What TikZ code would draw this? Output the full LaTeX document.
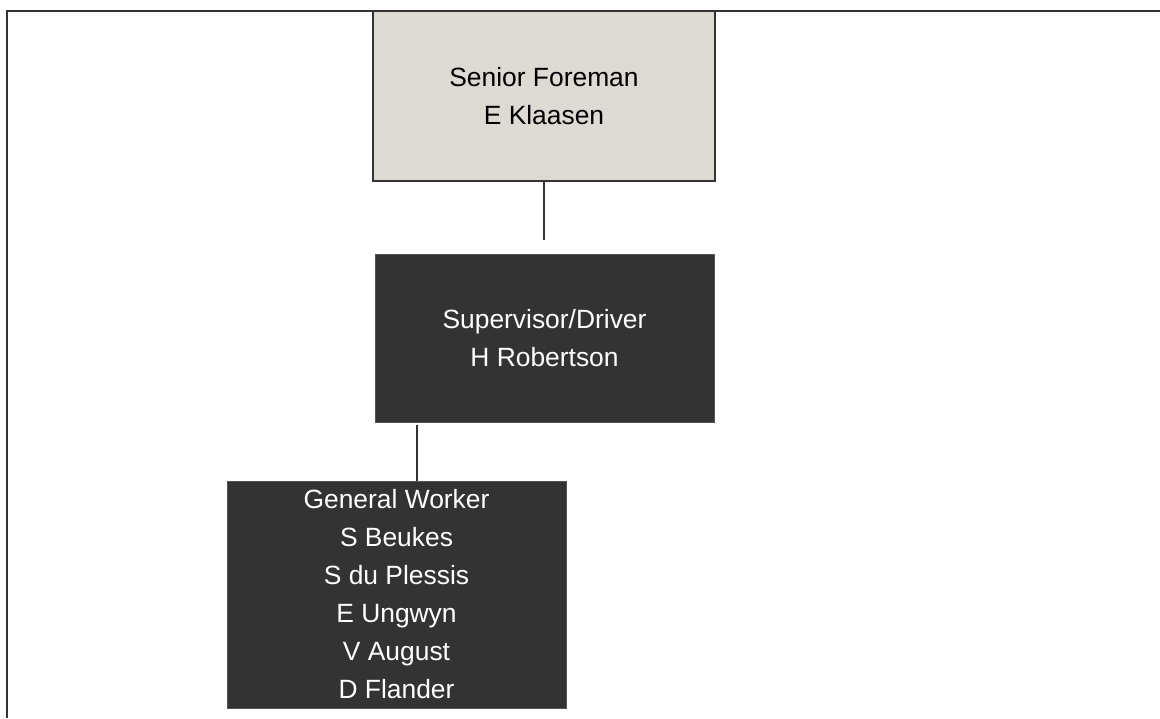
\documentclass[tikz,border=0pt]{standalone}
\usepackage{fontspec}
\setmainfont{Liberation Sans}
\definecolor{linegray}{HTML}{333333}
\definecolor{boxdark}{HTML}{333333}
\definecolor{boxlight}{HTML}{DDDAD3}
\definecolor{darkedge}{HTML}{555555}
\begin{document}
\begin{tikzpicture}[x=0.5pt,y=-0.5pt,
  orgbox/.style={rectangle, inner sep=0pt, align=center,
    font=\fontsize{13.2}{19}\selectfont},
  lightbox/.style={orgbox, fill=boxlight, draw=linegray, line width=1.2pt, text=black},
  darkbox/.style={orgbox, fill=boxdark, draw=darkedge, line width=0.4pt, text=white},
  link/.style={draw=linegray, line width=1.1pt},
  frame/.style={draw=linegray, line width=1.1pt}]
  \useasboundingbox (0,0) rectangle (1160,718);

  % page frame: top and left rules
  \draw[frame] (1160,11) -- (7,11) -- (7,718);

  % org chart boxes
  \node[lightbox, minimum width=171pt, minimum height=85pt] (senior) at (544,96)
    {Senior Foreman\\E Klaasen};
  \node[darkbox, minimum width=169.5pt, minimum height=84pt] (super) at (544.5,338)
    {Supervisor/Driver\\H Robertson};
  \node[darkbox, minimum width=169.5pt, minimum height=113.5pt] (worker) at (396.5,594.5)
    {General Worker\\S Beukes\\S du Plessis\\E Ungwyn\\V August\\D Flander};

  % reporting lines
  \coordinate (seniorline) at (544,240);
  \coordinate (superline) at (417,425);
  \draw[link] (senior.south) -- (seniorline);
  \draw[link] (superline) -- (superline |- worker.north);
\end{tikzpicture}
\end{document}
